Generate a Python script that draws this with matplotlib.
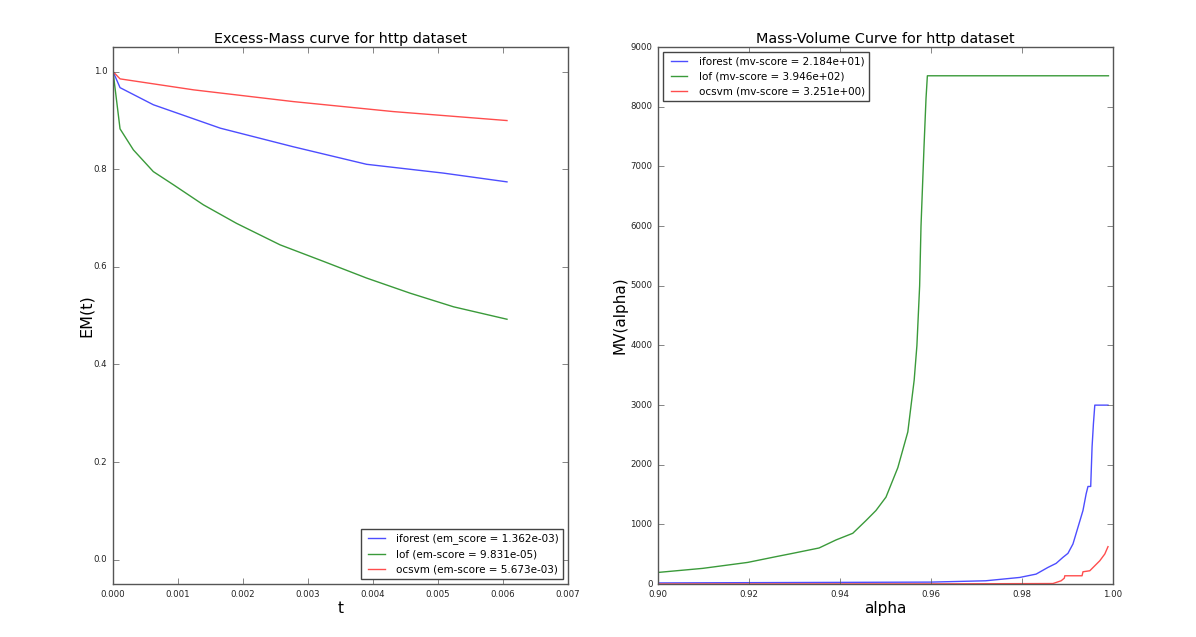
import numpy as np
import matplotlib
matplotlib.use("Agg")
from matplotlib import pyplot as plt

# Excess-Mass curves (left panel)
t_iforest = [0.0, 0.000108, 0.00062, 0.00165, 0.00277, 0.0039, 0.00508, 0.00606]
em_iforest = [1.0, 0.967, 0.932, 0.884, 0.846, 0.810, 0.792, 0.774]
t_lof = [0.0, 0.000108, 0.000313, 0.00062, 0.00093, 0.00139, 0.0019, 0.00257,
         0.00324, 0.0039, 0.00457, 0.00524, 0.00606]
em_lof = [1.0, 0.8826, 0.8396, 0.795, 0.768, 0.727, 0.689, 0.645,
          0.611, 0.577, 0.546, 0.518, 0.4926]
t_ocsvm = [0.0, 0.000108, 0.00124, 0.00277, 0.00431, 0.00606]
em_ocsvm = [1.0, 0.985, 0.9625, 0.9385, 0.918, 0.8996]

# Mass-Volume curves (right panel)
alpha_lof = [0.9, 0.9098, 0.9197, 0.9259, 0.9296, 0.9354, 0.9391, 0.9428,
             0.9457, 0.9479, 0.9501, 0.9527, 0.9549, 0.9563, 0.9569, 0.9575,
             0.9578, 0.95846, 0.9589, 0.9592, 0.999]
mv_lof = [196, 264, 364, 460, 516, 606, 740, 852, 1065, 1234, 1458, 1951,
          2551, 3420, 4000, 5000, 6000, 7328, 8138, 8520, 8520]
alpha_iforest = [0.9, 0.96, 0.972, 0.9795, 0.9831, 0.9857, 0.9875, 0.989,
                 0.9901, 0.9912, 0.9923, 0.9934, 0.9941, 0.9945, 0.9951,
                 0.9954, 0.9957, 0.9960, 0.9989]
mv_iforest = [20, 34, 56, 112, 168, 280, 348, 449, 516, 673, 953, 1234,
              1514, 1637, 1637, 2299, 2691, 3000, 3000]
alpha_ocsvm = [0.9, 0.96, 0.9868, 0.9886, 0.9893, 0.9894, 0.9932, 0.9934,
               0.9949, 0.996, 0.9971, 0.9982, 0.9989]
mv_ocsvm = [2, 4, 10, 56, 100, 140, 140, 207, 224, 308, 392, 505, 628]

c_blue = "#4d4dff"
c_green = "#3a9a3a"
c_red = "#ff4d4d"

plt.style.use("classic")
plt.rcParams["figure.facecolor"] = "white"
plt.rcParams["savefig.facecolor"] = "white"
plt.rcParams["xtick.labelsize"] = 6.2
plt.rcParams["ytick.labelsize"] = 6.2
plt.rcParams["legend.fontsize"] = 7.5
plt.rcParams["axes.edgecolor"] = "#555555"
plt.rcParams["xtick.color"] = "#555555"
plt.rcParams["ytick.color"] = "#555555"
plt.rcParams["xtick.labelcolor"] = "#222222"
plt.rcParams["ytick.labelcolor"] = "#222222"
plt.rcParams["legend.edgecolor"] = "#444444"

fig = plt.figure(figsize=(11.96, 6.37), dpi=100)
ax1 = fig.add_axes([0.0945, 0.083, 0.3805, 0.843])
ax2 = fig.add_axes([0.5502, 0.083, 0.3804, 0.843])

ax1.plot(t_iforest, em_iforest, color=c_blue, lw=1, label="iforest (em_score = 1.362e-03)")
ax1.plot(t_lof, em_lof, color=c_green, lw=1, label="lof (em-score = 9.831e-05)")
ax1.plot(t_ocsvm, em_ocsvm, color=c_red, lw=1, label="ocsvm (em-score = 5.673e-03)")
ax1.set_xlim(0, 0.007)
ax1.set_ylim(-0.05, 1.05)
ax1.set_xticks(np.arange(0, 0.0071, 0.001))
ax1.set_xticklabels(["%.3f" % v for v in np.arange(0, 0.0071, 0.001)])
ax1.set_yticks(np.arange(0, 1.01, 0.2))
ax1.set_yticklabels(["%.1f" % v for v in np.arange(0, 1.01, 0.2)])
ax1.set_xlabel("t", fontsize=11, labelpad=2)
ax1.set_ylabel("EM(t)", fontsize=11.5, labelpad=0)
ax1.set_title("Excess-Mass curve for http dataset", fontsize=10.4, pad=3)
ax1.legend(loc="lower right", fancybox=False, handlelength=2.2)

ax2.plot(alpha_iforest, mv_iforest, color=c_blue, lw=1, label="iforest (mv-score = 2.184e+01)")
ax2.plot(alpha_lof, mv_lof, color=c_green, lw=1, label="lof (mv-score = 3.946e+02)")
ax2.plot(alpha_ocsvm, mv_ocsvm, color=c_red, lw=1, label="ocsvm (mv-score = 3.251e+00)")
ax2.set_xlim(0.9, 1.0)
ax2.set_ylim(0, 9000)
ax2.set_xticks(np.arange(0.9, 1.001, 0.02))
ax2.set_xticklabels(["%.2f" % v for v in np.arange(0.9, 1.001, 0.02)])
ax2.set_yticks(np.arange(0, 9001, 1000))
ax2.set_xlabel("alpha", fontsize=11, labelpad=2)
ax2.set_ylabel("MV(alpha)", fontsize=11, labelpad=2)
ax2.set_title("Mass-Volume Curve for http dataset", fontsize=10.4, pad=3)
ax2.legend(loc="upper left", fancybox=False, handlelength=2.2)

fig.savefig("out.png", dpi=100)
